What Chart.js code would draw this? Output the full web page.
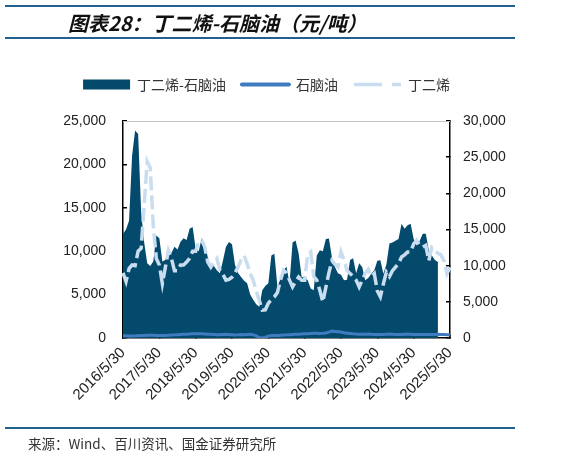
<!DOCTYPE html>
<html>
<head>
<meta charset="utf-8">
<script src="https://cdn.jsdelivr.net/npm/chart.js@4.4.1/dist/chart.umd.min.js"></script>
<style>
  body { margin: 0; background: #fff; }
  #wrap { position: relative; width: 563px; height: 456px; overflow: hidden; font-family: "Noto Sans CJK SC", sans-serif; }
  .rule { position: absolute; left: 5px; width: 510px; height: 2px; background: #21618f; }
  #title { position: absolute; left: 68px; top: 8px; font-size: 20px; font-weight: bold; font-style: italic; color: #111; line-height: 30px; white-space: nowrap; }
  #source { position: absolute; left: 28px; top: 434px; font-size: 13.5px; color: #333; line-height: 18px; white-space: nowrap; }
  canvas { position: absolute; left: 0; top: 0; }
</style>
</head>
<body>
<div id="wrap">
  <canvas id="chart" width="563" height="456"></canvas>
  <div class="rule" style="top:5px"></div>
  <div id="title">图表28：丁二烯-石脑油（元/吨）</div>
  <div class="rule" style="top:37px"></div>
  <div class="rule" style="top:427px"></div>
  <div id="source">来源：Wind、百川资讯、国金证券研究所</div>
</div>
<script>
// monthly points, 2016/5/30 .. 2025/5/30
const months = [];
for (let k = 0; k < 109; k++) {
  const t = 2016 * 12 + 4 + k;
  months.push(Math.floor(t / 12) + "/" + ((t % 12) + 1) + "/30");
}

// 丁二烯-石脑油 spread (left axis)
const spread = [
  12000, 12500, 13500, 21000, 23900, 23500, 14500, 11000,
  8600, 8300, 8800, 11800, 11500, 8800, 9000, 10000, 9800, 10500, 10200, 11100,
  11500, 11300, 12600, 12800, 10300, 10000, 11500, 10900, 9300, 8200, 8300, 7800,
  7450, 8900, 10500, 11050, 10800, 8400, 7500, 7030, 6600, 6300, 5000, 4400,
  3900, 3600, 5500, 6000, 6300, 9500, 9700, 5900, 6800, 7800, 8200, 6300,
  11000, 11240, 9750, 7030, 7000, 6650, 5700, 5500, 9500, 10100, 10000, 11400,
  11470, 9300, 8180, 7450, 7300, 6650, 6700, 9000, 9180, 7450, 8600, 8180,
  6650, 6900, 7400, 7800, 8900, 8950, 7400, 8500, 10900, 11000, 11200, 11400,
  13150, 12600, 13000, 13150, 11400, 10650, 11200, 12000, 12000, 10100, 9500, 9000,
  8750, null, null, null, null
];

// 石脑油 (left axis)
const naphtha = [
  250, 250, 240, 240, 250, 270, 290, 300,
  320, 320, 310, 300, 290, 290, 300, 320, 340, 360, 380, 400,
  420, 440, 460, 480, 500, 500, 480, 460, 440, 420, 400, 380,
  380, 400, 420, 400, 380, 360, 370, 390, 380, 400, 420, 380,
  250, 60, 0, 100, 220, 280, 300, 300, 320, 340, 360, 380,
  400, 420, 440, 460, 480, 500, 520, 540, 560, 520, 540, 580,
  680, 800, 760, 720, 680, 600, 560, 520, 480, 450, 430, 420,
  430, 450, 420, 400, 390, 400, 410, 430, 450, 430, 410, 400,
  410, 430, 450, 430, 410, 400, 390, 400, 410, 400, 400, 410,
  420, 400, 390, 380, 380
];

// 丁二烯 (right axis)
const butadiene = [
  9000, 7800, 9600, 10100, 10000, 12000, 12400, 18500,
  24400, 23500, 15500, 11000, 10100, 7500, 9800, 12100, 11000, 9300, 9300, 10100,
  10100, 10500, 11000, 12000, 12000, 13300, 13500, 12600, 10500, 9800, 10500, 11000,
  9400, 8800, 8000, 8100, 8400, 9000, 9800, 10800, 11400, 10300, 8900, 8000,
  6500, 5200, 3850, 3900, 4800, 5300, 5700, 6300, 8000, 9350, 9000, 8000,
  7060, 7800, 8430, 8000, 8000, 11500, 11900, 8500, 8000, 6600, 5000, 7000,
  9000, 10700, 10200, 9800, 11900, 10800, 9350, 8900, 8500, 8000, 7060, 8000,
  8900, 9500, 8500, 8900, 6500, 5700, 7500, 9100, 8500, 9300, 9800, 10300,
  11200, 11500, 11900, 11900, 13000, 13500, 12800, 12560, 12800, 10700, 12500, 12100,
  11700, 11500, 10700, 8900, 9800
];

const leftTicks = [0, 5000, 10000, 15000, 20000, 25000];
const rightTicks = [0, 5000, 10000, 15000, 20000, 25000, 30000];

const areaColor = "#044a6c";
const naphthaColor = "#3f7cbf";
const butadieneColor = "#c8ddef";

// extra room under the legend
const legendGap = {
  id: "legendGap",
  beforeInit(chart) {
    const fit = chart.legend.fit;
    chart.legend.fit = function () {
      fit.call(this);
      this.height += 19.5;
    };
  }
};

// thin grey frame line along the top of the plot
const topLine = {
  id: "topLine",
  afterDraw(chart) {
    const { ctx, chartArea } = chart;
    ctx.save();
    ctx.strokeStyle = "#c4c4c4";
    ctx.lineWidth = 1;
    ctx.beginPath();
    ctx.moveTo(chartArea.left, chartArea.top + 0.5);
    ctx.lineTo(chartArea.right, chartArea.top + 0.5);
    ctx.stroke();
    ctx.restore();
  }
};

const tickFont = { family: "'Liberation Sans', Arial, sans-serif", size: 14 };

new Chart(document.getElementById("chart"), {
  type: "line",
  data: {
    labels: months,
    datasets: [
      {
        label: "丁二烯-石脑油",
        data: spread,
        yAxisID: "y",
        fill: "origin",
        backgroundColor: areaColor,
        borderColor: areaColor,
        borderWidth: 0,
        pointRadius: 0,
        tension: 0,
        order: 3
      },
      {
        label: "石脑油",
        data: naphtha,
        yAxisID: "y",
        fill: false,
        borderColor: naphthaColor,
        borderWidth: 3,
        pointRadius: 0,
        tension: 0,
        order: 1
      },
      {
        label: "丁二烯",
        data: butadiene,
        yAxisID: "y1",
        fill: false,
        borderColor: butadieneColor,
        borderWidth: 3.5,
        borderDash: [14, 5],
        pointRadius: 0,
        tension: 0,
        order: 2
      }
    ]
  },
  options: {
    responsive: false,
    animation: false,
    layout: { padding: { top: 61.5, left: 0, right: 30, bottom: 0 } },
    plugins: {
      tooltip: { enabled: false },
      legend: {
        display: true,
        position: "top",
        labels: {
          usePointStyle: true,
          pointStyleWidth: 47,
          boxHeight: 10,
          padding: 16,
          color: "#333",
          font: { family: "'Noto Sans CJK SC', sans-serif", size: 14 },
          generateLabels: (chart) => [
            { text: "丁二烯-石脑油", datasetIndex: 0, fillStyle: areaColor, strokeStyle: areaColor, lineWidth: 0, pointStyle: "rect", fontColor: "#333" },
            { text: "石脑油", datasetIndex: 1, fillStyle: naphthaColor, strokeStyle: naphthaColor, lineWidth: 4, lineCap: "round", pointStyle: "line", fontColor: "#333" },
            { text: "丁二烯", datasetIndex: 2, fillStyle: butadieneColor, strokeStyle: butadieneColor, lineWidth: 3.5, lineDash: [28, 10], pointStyle: "line", fontColor: "#333" }
          ]
        }
      }
    },
    scales: {
      x: {
        type: "category",
        offset: false,
        afterFit(s) { s.height = 118; },
        border: { display: true, color: "#000", width: 1.5 },
        grid: {
          drawOnChartArea: false,
          drawTicks: true,
          tickLength: -4,
          lineWidth: 1.5,
          color: (c) => (c.index % 12 === 0 ? "#000" : "rgba(0,0,0,0)")
        },
        ticks: {
          autoSkip: false,
          minRotation: 45,
          maxRotation: 45,
          padding: 10,
          color: "#222",
          font: { family: "'Liberation Sans', Arial, sans-serif", size: 15 },
          callback(value, index) {
            return index % 12 === 0 ? this.getLabelForValue(value) : "";
          }
        }
      },
      y: {
        position: "left",
        min: 0,
        max: 25000,
        afterFit(s) { s.width = 123; },
        afterBuildTicks(s) { s.ticks = leftTicks.map((v) => ({ value: v })); },
        border: { display: true, color: "#000", width: 1.5 },
        grid: { drawOnChartArea: false, drawTicks: true, tickLength: -4, color: "#000", lineWidth: 1.5 },
        ticks: {
          padding: 21,
          color: "#222",
          font: tickFont,
          callback: (v) => v.toLocaleString("en-US")
        }
      },
      y1: {
        position: "right",
        min: 0,
        max: 30000,
        afterFit(s) { s.width = 83; },
        afterBuildTicks(s) { s.ticks = rightTicks.map((v) => ({ value: v })); },
        border: { display: true, color: "#000", width: 1.5 },
        grid: { drawOnChartArea: false, drawTicks: true, tickLength: -4, color: "#000", lineWidth: 1.5 },
        ticks: {
          padding: 17,
          color: "#222",
          font: tickFont,
          callback: (v) => v.toLocaleString("en-US")
        }
      }
    }
  },
  plugins: [legendGap, topLine]
});
</script>
</body>
</html>
